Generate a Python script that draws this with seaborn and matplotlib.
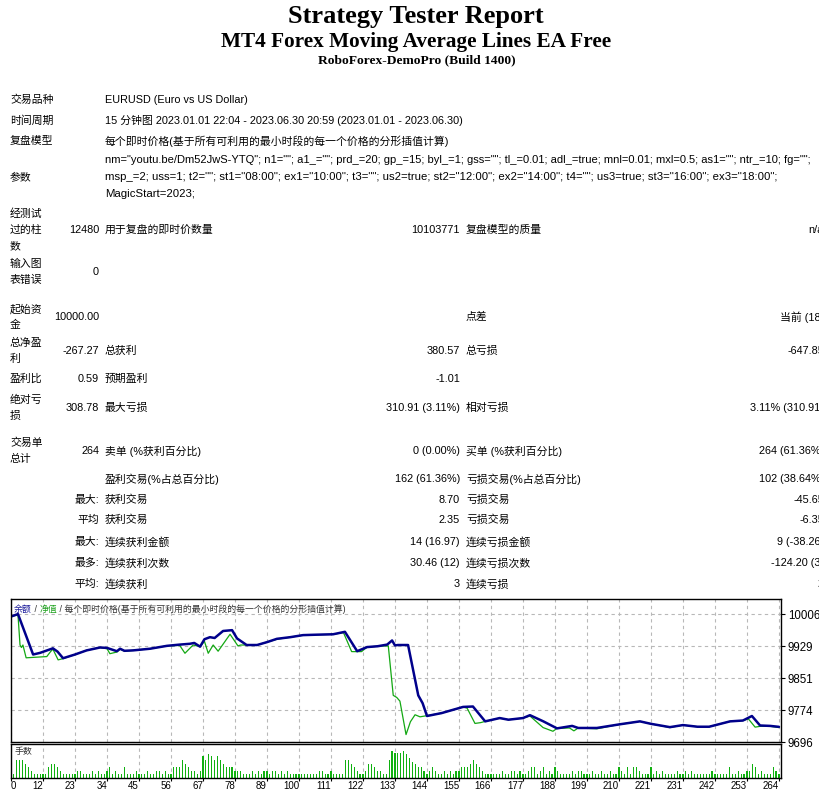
import numpy as np
import pandas as pd
import matplotlib
matplotlib.use("Agg")
import matplotlib.pyplot as plt
import seaborn as sns

# ---------------- data ----------------
bal_t = [0, 2.4, 7.6, 10, 14.4, 16, 17.9, 22, 26, 30.6, 33, 36.4, 37.5, 39, 42, 47.8,
         53.6, 58, 61.5, 63, 65, 66.5, 68.4, 70, 72.9, 76, 77.7, 81, 84.6, 88, 91.4, 96,
         100.4, 105, 110.7, 114.8, 119, 122.4, 126, 129.3, 131, 132, 133, 136.5, 140,
         141.5, 143, 148, 155.4, 158.8, 163, 168, 171, 176, 178.4, 183, 187.7, 192.9,
         195, 201.4, 209.4, 216.2, 220, 226.5, 231, 236, 240, 247.2, 251.6, 254.7,
         257.5, 261, 264]
bal_v = [10000, 10006, 9908, 9912, 9923, 9915, 9899, 9908, 9918, 9925, 9924, 9916, 9922,
         9917, 9918, 9922, 9929, 9932, 9934, 9936, 9927, 9945, 9950, 9948, 9965, 9967,
         9947, 9931, 9931, 9938, 9946, 9950, 9955, 9956, 9957, 9963, 9916, 9926, 9928,
         9932, 9942, 9930, 9931, 9931, 9809, 9790, 9759, 9766, 9781, 9782, 9746, 9754,
         9750, 9754, 9761, 9746, 9729, 9735, 9730, 9730, 9739, 9746, 9740, 9732, 9737,
         9733, 9733, 9746, 9748, 9759, 9736, 9735, 9732.7]

eq_t = [0, 2.4, 3.1, 3.6, 4.1, 5.2, 12.3, 13.6, 14.4, 16.2, 17.9, 22, 26, 30.6, 33, 34,
        36.4, 37.5, 39, 42, 47.8, 53.6, 58, 59.8, 62.6, 65, 66.5, 67.8, 69.5, 71.2, 75.3,
        78, 79, 81, 84.6, 88, 91.4, 96, 100.4, 105, 110.7, 114.3, 117.1, 120.5, 122.4,
        126, 129.7, 131.4, 132.6, 133.7, 135.8, 137.3, 138.9, 140.6, 142.3, 148, 155.4,
        156.8, 159.5, 161.5, 163, 168, 171, 176, 178.4, 182.9, 186.3, 187.7, 192, 193.5,
        195, 201.4, 209.4, 216.2, 220, 226.5, 231, 236, 240, 247.2, 251.6, 253.5, 255.8,
        257.5, 261, 264]
eq_v = [10000, 10004, 9931, 9925, 9931, 9900, 9903, 9915, 9921, 9895, 9898, 9908, 9918,
        9925, 9922, 9910, 9914, 9921, 9916, 9918, 9922, 9929, 9930, 9911, 9931, 9927, 9940,
        9911, 9931, 9916, 9957, 9929, 9931, 9931, 9931, 9938, 9945, 9950, 9955, 9956, 9957,
        9961, 9915, 9915, 9926, 9928, 9929, 9809, 9804, 9795, 9714, 9745, 9762, 9757, 9759,
        9766, 9781, 9778, 9741, 9743, 9746, 9754, 9750, 9754, 9759, 9731, 9722, 9729, 9730,
        9723, 9730, 9728, 9739, 9746, 9740, 9731, 9737, 9733, 9733, 9746, 9748, 9752, 9732,
        9734, 9734, 9731]

# lot size of each trade, in 0.01 lots
lots_x100 = [1, 5, 5, 5, 4, 3, 2, 1, 1, 1, 1,
             1, 3, 4, 4, 3, 2, 1, 1, 1, 1, 1,
             2, 2, 1, 1, 1, 2, 1, 2, 1, 1, 2,
             3, 1, 2, 1, 1, 3, 1, 1, 1, 2, 1,
             1, 1, 2, 1, 1, 2, 2, 1, 2, 1, 1,
             3, 3, 3, 5, 4, 3, 2, 2, 1, 2, 6,
             5, 6.5, 6, 5, 6, 5, 4, 3, 3, 3, 2,
             2, 2, 1, 1, 1, 2, 1, 2, 1, 2, 2,
             1, 2, 2, 1, 2, 1, 2, 1, 1, 1, 1,
             1, 1, 1, 1, 1, 1, 2, 2, 1, 1, 2,
             1, 1, 1, 1, 5, 5, 4, 3, 2, 1, 1,
             2, 4, 4, 3, 2, 2, 1, 1, 5, 7.5, 7,
             7, 7, 7.5, 6.5, 5.5, 4.5, 4, 3, 3, 2, 1,
             2, 3, 2, 1, 1, 2, 1, 2, 1, 2, 2,
             3, 3, 3, 4, 5, 4, 3, 2, 1, 1, 1,
             1, 1, 1, 2, 1, 1, 2, 2, 1, 2, 1,
             1, 2, 3, 3, 1, 2, 3, 1, 2, 1, 3,
             2, 1, 1, 1, 1, 2, 1, 2, 2, 1, 1,
             1, 2, 1, 1, 2, 1, 1, 2, 1, 1, 3,
             2, 1, 3, 1, 3, 3, 2, 1, 1, 1, 3,
             1, 2, 1, 2, 1, 1, 1, 1, 2, 1, 1,
             2, 1, 2, 1, 1, 1, 1, 1, 1, 2, 1,
             1, 1, 1, 1, 3, 1, 1, 2, 1, 1, 2,
             2, 4, 3, 1, 2, 1, 1, 1, 3, 2, 1]

x_tick_labels = ['0', '12', '23', '34', '45', '56', '67', '78', '89', '100', '111', '122',
                 '133', '144', '155', '166', '177', '188', '199', '210', '221', '231',
                 '242', '253', '264']
y_tick_vals = [9696, 9773.5, 9851, 9928.5, 10006]
y_tick_labels = ['9696', '9774', '9851', '9929', '10006']

title1 = "Strategy Tester Report"
title2 = "MT4 Forex Moving Average Lines EA Free"
title3 = "RoboForex-DemoPro (Build 1400)"

params = ['nm="youtu.be/Dm52JwS-YTQ"; n1=""; a1_=""; prd_=20; gp_=15; byl_=1; gss=""; tl_=0.01; adl_=true; mnl=0.01; mxl=0.5; as1=""; ntr_=10; fg="";',
          'msp_=2; uss=1; t2=""; st1="08:00"; ex1="10:00"; t3=""; us2=true; st2="12:00"; ex2="14:00"; t4=""; us3=true; st3="16:00"; ex3="18:00";',
          'MagicStart=2023;']
param_sizes = [8.05, 8.2, 8.2]

# (row label lines, value, label2, value2, label3, value3)
rows = [
    (["交易品种"], "", "EURUSD (Euro vs US Dollar)", "", "", ""),
    (["时间周期"], "", "15 分钟图 2023.01.01 22:04 - 2023.06.30 20:59 (2023.01.01 - 2023.06.30)", "", "", ""),
    (["复盘模型"], "", "每个即时价格(基于所有可利用的最小时段的每一个价格的分形插值计算)", "", "", ""),
    (["经测试", "过的柱", "数"], "12480", "用于复盘的即时价数量", "10103771", "复盘模型的质量", "n/a"),
    (["输入图", "表错误"], "0", "", "", "", ""),
    (["起始资", "金"], "10000.00", "", "", "点差", "当前 (18)"),
    (["总净盈", "利"], "-267.27", "总获利", "380.57", "总亏损", "-647.85"),
    (["盈利比"], "0.59", "预期盈利", "-1.01", "", ""),
    (["绝对亏", "损"], "308.78", "最大亏损", "310.91 (3.11%)", "相对亏损", "3.11% (310.91)"),
    (["交易单", "总计"], "264", "卖单 (%获利百分比)", "0 (0.00%)", "买单 (%获利百分比)", "264 (61.36%)"),
    ([], "", "盈利交易(%占总百分比)", "162 (61.36%)", "亏损交易(%占总百分比)", "102 (38.64%)"),
    ([], "最大:", "获利交易", "8.70", "亏损交易", "-45.65"),
    ([], "平均", "获利交易", "2.35", "亏损交易", "-6.35"),
    ([], "最大:", "连续获利金额", "14 (16.97)", "连续亏损金额", "9 (-38.26)"),
    ([], "最多:", "连续获利次数", "30.46 (12)", "连续亏损次数", "-124.20 (3)"),
    ([], "平均:", "连续获利", "3", "连续亏损", "2"),
]
row_y = [100, 121, 141, 230, 272, 317, 351, 379, 408, 451, 479, 500, 520, 542, 563, 584]

# ---------------- style ----------------
sns.set_theme(style="white")
plt.rcParams['font.family'] = ['Liberation Sans', 'Noto Sans CJK SC', 'DejaVu Sans']

W, H = 819, 793
fig = plt.figure(figsize=(W / 100, H / 100), dpi=100)
fig.patch.set_facecolor('white')

def fx(x):
    return x / W

def fy(y):
    return 1 - y / H

TXT = dict(fontsize=7.8, color='black', va='center')

# header
fig.text(fx(416), fy(23), title1, ha='center', va='baseline', fontsize=19,
         family='Liberation Serif', weight='bold', color='black')
fig.text(fx(416), fy(47.5), title2, ha='center', va='baseline', fontsize=15.3,
         family='Liberation Serif', weight='bold', color='black')
fig.text(fx(417), fy(63.5), title3, ha='center', va='baseline', fontsize=9.7,
         family='Liberation Serif', weight='bold', color='black')

# parameters
fig.text(fx(10), fy(177), "参数", ha='left', **TXT)
for i, (line, fs) in enumerate(zip(params, param_sizes)):
    fig.text(fx(105), fy(160 + 17 * i), line, ha='left', va='center', fontsize=fs,
             color='black')

for (labels, v1, l2, v2, l3, v3), y in zip(rows, row_y):
    n = len(labels)
    for j, lab in enumerate(labels):
        ly = y + (j - (n - 1) / 2) * 16
        fig.text(fx(10), fy(ly), lab, ha='left', **TXT)
    if v1:
        fig.text(fx(99), fy(y), v1, ha='right', **TXT)
    if l2:
        fig.text(fx(105), fy(y), l2, ha='left', **TXT)
    if v2:
        fig.text(fx(460), fy(y), v2, ha='right', **TXT)
    if l3:
        fig.text(fx(466), fy(y), l3, ha='left', **TXT)
    if v3:
        fig.text(fx(824), fy(y), v3, ha='right', **TXT)

# ---------------- charts ----------------
ax = fig.add_axes([fx(11), fy(742), (781 - 11) / W, (742 - 599) / H])
axb = fig.add_axes([fx(11), fy(778), (781 - 11) / W, (778 - 744) / H])

x_ticks = np.arange(len(x_tick_labels)) * 11
xmax = 264.7

df_eq = pd.DataFrame({'trade': eq_t, 'value': eq_v})
df_bal = pd.DataFrame({'trade': bal_t, 'value': bal_v})
sns.lineplot(data=df_eq, x='trade', y='value', ax=ax, color='#13a813', lw=0.9,
             estimator=None, sort=False)
sns.lineplot(data=df_bal, x='trade', y='value', ax=ax, color='#00008b', lw=1.8,
             estimator=None, sort=False)

ax.set_xlim(0, xmax)
ax.set_ylim(9696, 10042.5)
ax.set_xticks(x_ticks)
ax.set_yticks(y_tick_vals)
ax.set_yticklabels(y_tick_labels)
ax.yaxis.tick_right()
ax.tick_params(axis='y', length=3, width=0.8, pad=2, labelsize=8.3, colors='black',
               direction='out', right=True, left=False)
ax.tick_params(axis='x', length=0, labelbottom=False)
ax.set_xlabel('')
ax.set_ylabel('')
ax.grid(True, linestyle=(0, (3, 3)), color='#b8b8b8', linewidth=0.8)
for s in ax.spines.values():
    s.set_color('black')
    s.set_linewidth(1.0)

# inline title
t1 = ax.text(0.004, 0.895, "余额", transform=ax.transAxes, fontsize=6.4, color='#1a1a9a',
             va='bottom', ha='left')
t2 = ax.annotate(" / ", xycoords=t1, xy=(1, 0), fontsize=6.4, color='#333333', va='bottom')
t3 = ax.annotate("净值", xycoords=t2, xy=(1, 0), fontsize=6.4, color='#19a019', va='bottom')
t4 = ax.annotate(" / 每个即时价格(基于所有可利用的最小时段的每一个价格的分形插值计算)", xycoords=t3,
                 xy=(1, 0), fontsize=6.4, color='#333333', va='bottom')

# lots bars
trades = np.arange(1, len(lots_x100) + 1)
lots = np.array(lots_x100) / 100.0
df_lots = pd.DataFrame({'trade': trades, 'lots': lots})
sns.barplot(data=df_lots, x='trade', y='lots', ax=axb, native_scale=True,
            color='#10b010', width=0.4, edgecolor='none', saturation=1)
axb.set_xlim(0, xmax)
axb.set_ylim(0, 0.094)
axb.set_yticks([])
axb.set_xticks(x_ticks)
axb.set_xticklabels(x_tick_labels)
for i, lbl in enumerate(axb.get_xticklabels()):
    lbl.set_ha('left' if i == 0 else 'right')
axb.tick_params(axis='x', length=2, width=0.8, pad=0.5, labelsize=7, colors='black',
                direction='out', bottom=True)
axb.set_xlabel('')
axb.set_ylabel('')
axb.grid(True, axis='x', linestyle=(0, (3, 3)), color='#b8b8b8', linewidth=0.8)
for s in axb.spines.values():
    s.set_color('black')
    s.set_linewidth(1.0)
axb.text(0.004, 0.78, "手数", transform=axb.transAxes, fontsize=6.4, color='#333333',
         va='center', ha='left')

fig.savefig('out.png', dpi=100, facecolor='white')
